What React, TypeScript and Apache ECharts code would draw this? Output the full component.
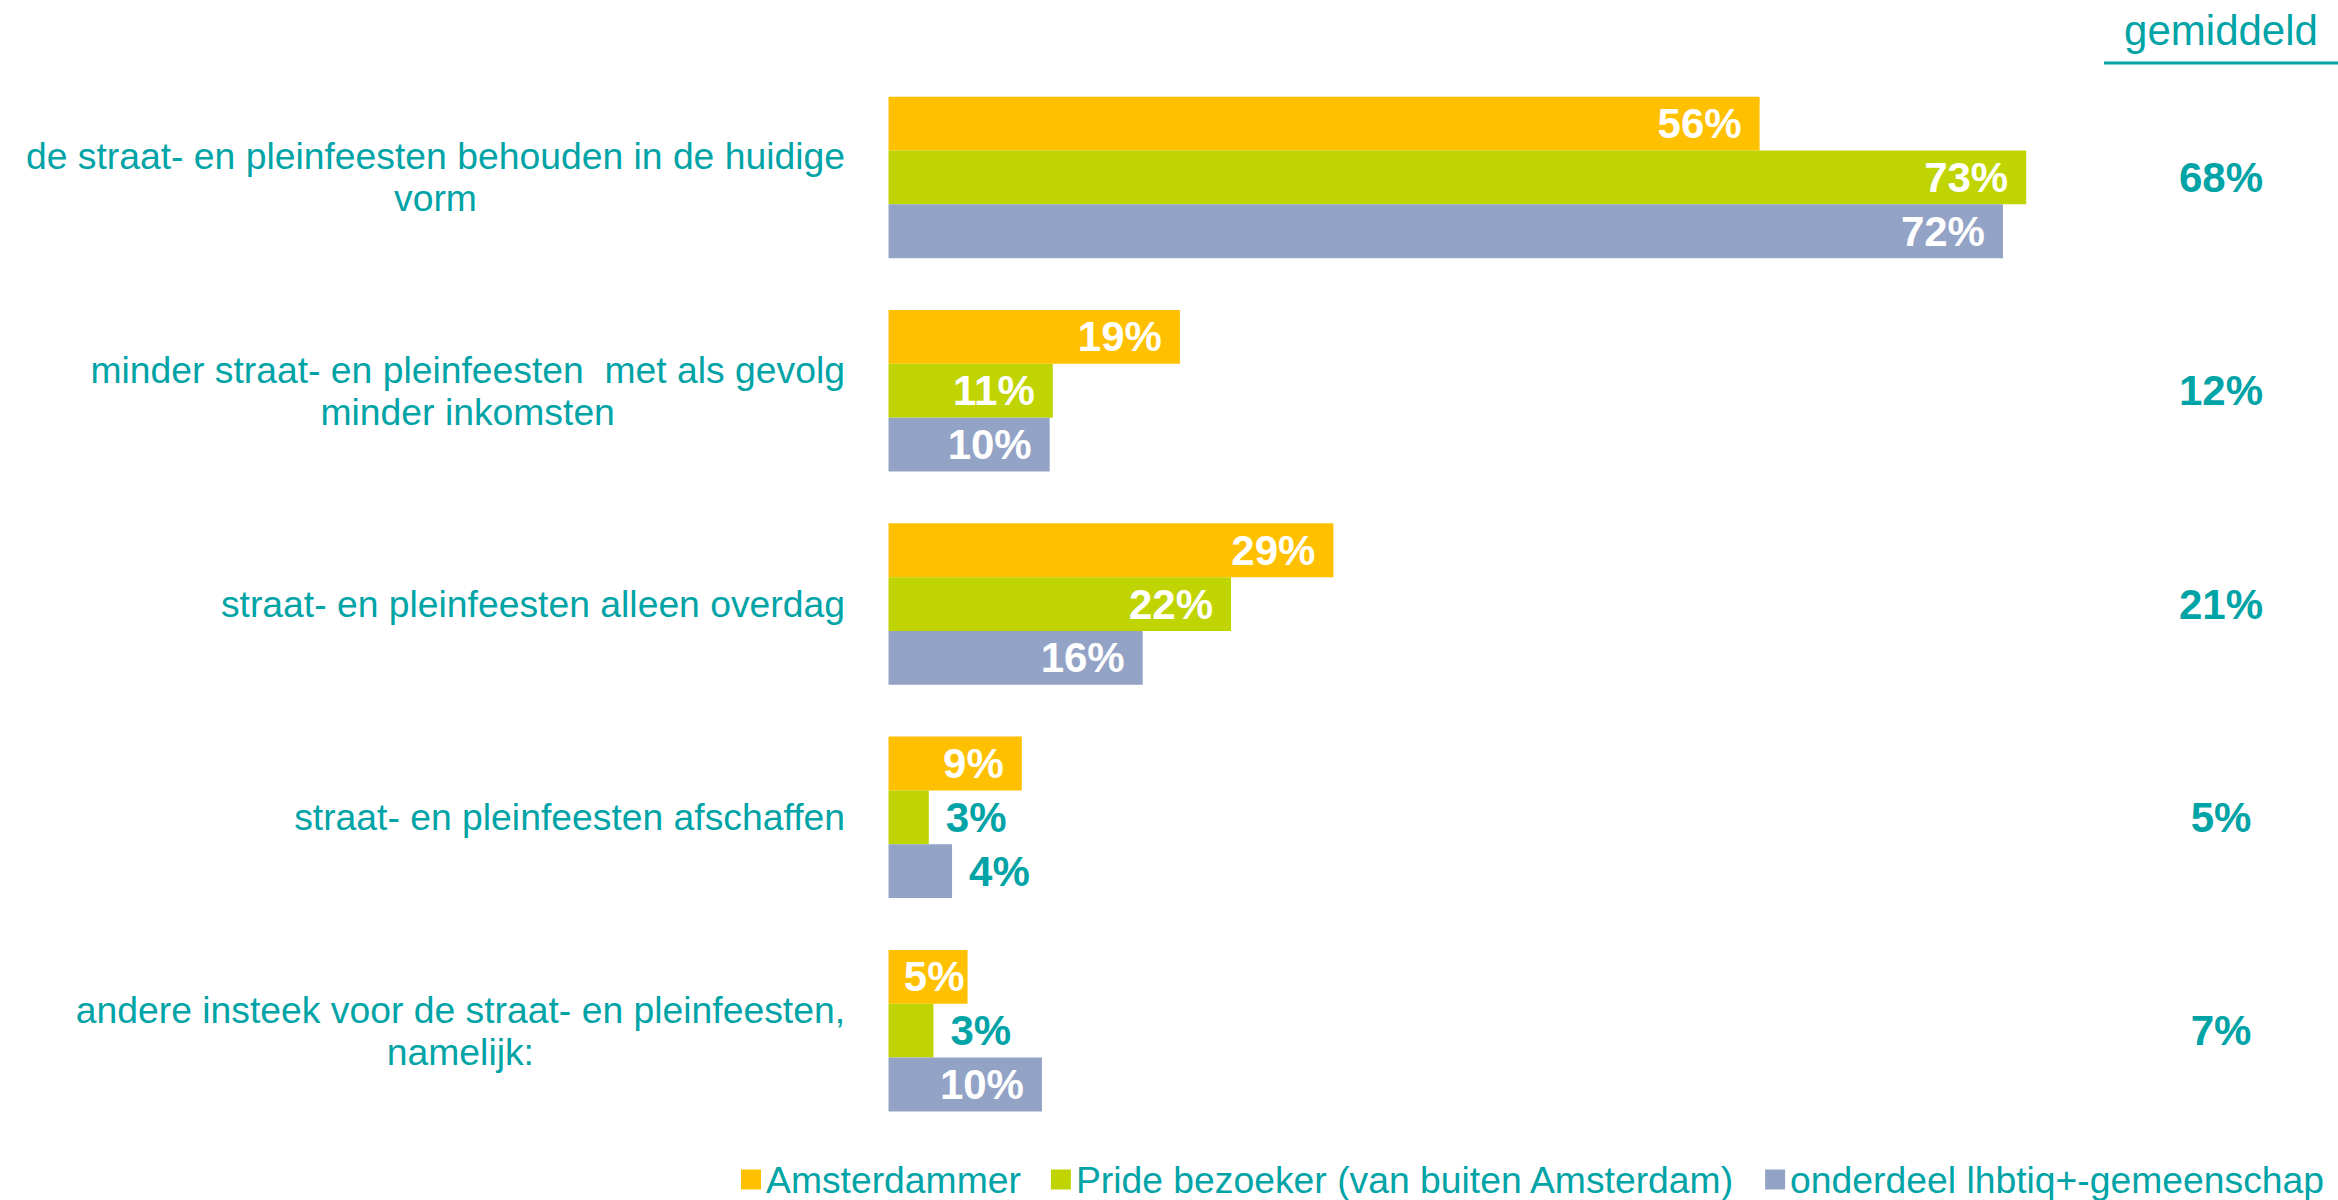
import React, { useEffect, useRef } from "react";
import * as echarts from "echarts";

const categories = [
  "de straat- en pleinfeesten behouden in de huidige\nvorm",
  "minder straat- en pleinfeesten  met als gevolg\nminder inkomsten",
  "straat- en pleinfeesten alleen overdag",
  "straat- en pleinfeesten afschaffen",
  "andere insteek voor de straat- en pleinfeesten,\nnamelijk:",
];
const seriesNames = [
  "Amsterdammer",
  "Pride bezoeker (van buiten Amsterdam)",
  "onderdeel lhbtiq+-gemeenschap",
];
const amsterdammer = [56.2, 18.8, 28.7, 8.6, 5.1];
const prideBezoeker = [73.4, 10.6, 22.1, 2.6, 2.9];
const lhbtiq = [71.9, 10.4, 16.4, 4.1, 9.9];
const gemiddeld = ["68%", "12%", "21%", "5%", "7%"];
const averageTitle = "gemiddeld";

const TEAL = "#00A3A6";
const COLORS = ["#FFC000", "#BFD400", "#93A3C6"];
const FONT = "'Liberation Sans', Arial, sans-serif";

function buildData(values: number[]) {
  return values.map((v) => {
    if (v < 5) {
      return {
        value: v,
        label: { position: "right", color: TEAL, distance: 17 },
      };
    }
    if (v < 6) {
      return { value: v, label: { position: "insideRight", distance: 3 } };
    }
    return v;
  });
}

export default function App() {
  const ref = useRef<HTMLDivElement>(null);
  useEffect(() => {
    if (!ref.current) return;
    const chart = echarts.init(ref.current, undefined, { renderer: "svg" });
    const allSeries = [amsterdammer, prideBezoeker, lhbtiq].map((vals, i) => ({
      name: seriesNames[i],
      type: "bar",
      data: buildData(vals),
      barGap: "0%",
      barCategoryGap: "24.3%",
      itemStyle: { color: COLORS[i] },
      label: {
        show: true,
        position: "insideRight",
        distance: 18,
        color: "#FFFFFF",
        fontFamily: FONT,
        fontWeight: "bold",
        fontSize: 42,
        formatter: (p: any) => Math.round(p.value) + "%",
      },
    }));
    chart.setOption({
      animation: false,
      backgroundColor: "#FFFFFF",
      grid: { left: 888.5, width: 1240, top: 70.8, height: 1066.5 },
      xAxis: { type: "value", min: 0, max: 80, show: false },
      yAxis: [
        {
          type: "category",
          data: categories,
          inverse: true,
          axisLine: { show: false },
          axisTick: { show: false },
          axisLabel: {
            margin: 43.5,
            align: "right",
            formatter: (v: string) =>
              v
                .split("\n")
                .map((l) => `{c|${l}}`)
                .join("\n"),
            rich: {
              c: {
                align: "center",
                fontSize: 37.3,
                lineHeight: 42,
                color: TEAL,
                fontFamily: FONT,
              },
            },
          },
        },
        {
          type: "category",
          data: gemiddeld,
          inverse: true,
          position: "right",
          axisLine: { show: false },
          axisTick: { show: false },
          axisLabel: {
            margin: 92.5,
            align: "center",
            color: TEAL,
            fontFamily: FONT,
            fontWeight: "bold",
            fontSize: 42,
          },
        },
      ],
      legend: {
        data: seriesNames,
        left: 736,
        top: 1156,
        width: 2400,
        icon: "rect",
        itemWidth: 20,
        itemHeight: 20,
        itemGap: 30,
        textStyle: { color: TEAL, fontSize: 37.3, fontFamily: FONT },
      },
      graphic: [
        {
          type: "text",
          style: {
            text: averageTitle,
            x: 2221,
            y: 30.5,
            textAlign: "center",
            textVerticalAlign: "middle",
            fill: TEAL,
            fontSize: 42,
            fontFamily: FONT,
          },
        },
        {
          type: "line",
          shape: { x1: 2104, y1: 63, x2: 2338, y2: 63 },
          style: { stroke: TEAL, lineWidth: 3 },
        },
      ],
      series: allSeries,
    });
    return () => chart.dispose();
  }, []);
  return (
    <div
      ref={ref}
      style={{ position: "fixed", left: 0, top: 0, width: 2338, height: 1200 }}
    />
  );
}
